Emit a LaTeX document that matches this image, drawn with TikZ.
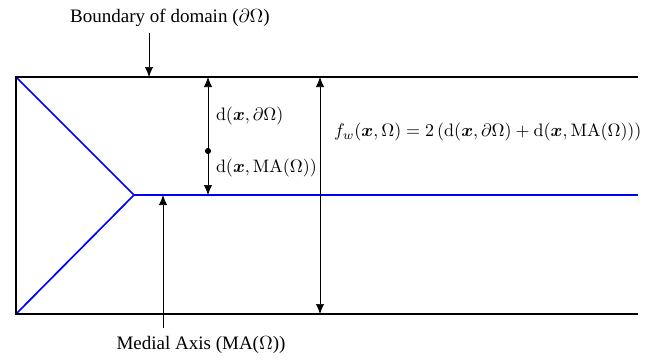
\documentclass[tikz,border=0pt]{standalone}
\usepackage{fix-cm}
\usepackage{amsmath}
\usepackage[no-math]{fontspec}
\setmainfont{Liberation Serif}
\usetikzlibrary{arrows.meta}
\tikzstyle{wall} = [line width=1.4pt, draw=black]
\tikzstyle{medial} = [line width=1pt, draw=blue]
\tikzstyle{arrow} = [->, >={Latex[length=6pt,width=5pt]}]
\tikzstyle{darrow} = [<->, >={Latex[length=6pt,width=5pt]}]
\tikzstyle{dot} = [circle, fill=black, inner sep=1.3pt]
\tikzstyle{txt} = [inner sep=1pt, font=\fontsize{11.4}{14}\selectfont]
\tikzstyle{eqn} = [inner sep=1pt, anchor=west, font=\fontsize{10.8}{13}\selectfont]

\begin{document}
\begin{tikzpicture}[x=0.6pt, y=0.6pt]
\useasboundingbox (0,0) rectangle (655,360);
% domain
\coordinate (tl) at (16,283);
\coordinate (tr) at (638,283);
\coordinate (bl) at (16,46);
\coordinate (br) at (638,46);
\coordinate (apex) at (134,165);
\coordinate (mr) at (638,165);
\draw [medial] (tl) -- (apex) -- (bl);
\draw [medial] (apex) -- (mr);
\draw [wall] (tr) -- (tl) -- (bl) -- (br);

\node (bnd) [txt] at (170,342) {Boundary of domain ($\partial\Omega$)};
\coordinate (bndtop) at (149,327);
\coordinate (bndpt) at (149,283);
\draw [arrow] (bndtop) -- (bndpt);

\node (pt) [dot] at (208,209) {};
\coordinate (dtop) at (208,283);
\coordinate (dbot) at (208,165);
\draw [arrow] (pt) -- (dtop);
\draw [arrow] (pt) -- (dbot);
\node (dwall) [eqn] at (214,244) {$\mathrm{d}(\boldsymbol{x},\partial\Omega)$};
\node (dma) [eqn] at (214,192) {$\mathrm{d}(\boldsymbol{x},\mathrm{MA}(\Omega))$};

\coordinate (ftop) at (320,283);
\coordinate (fbot) at (320,46);
\draw [darrow] (fbot) -- (ftop);
\node (fw) [eqn] at (332,228) {$f_w(\boldsymbol{x},\Omega)=2\,(\mathrm{d}(\boldsymbol{x},\partial\Omega)+\mathrm{d}(\boldsymbol{x},\mathrm{MA}(\Omega)))$};

\coordinate (mabot) at (163,32);
\coordinate (matip) at (163,165);
\draw [arrow] (mabot) -- (matip);
\node (malabel) [txt] at (201,15) {Medial Axis (MA($\Omega$))};
\end{tikzpicture}
\end{document}
